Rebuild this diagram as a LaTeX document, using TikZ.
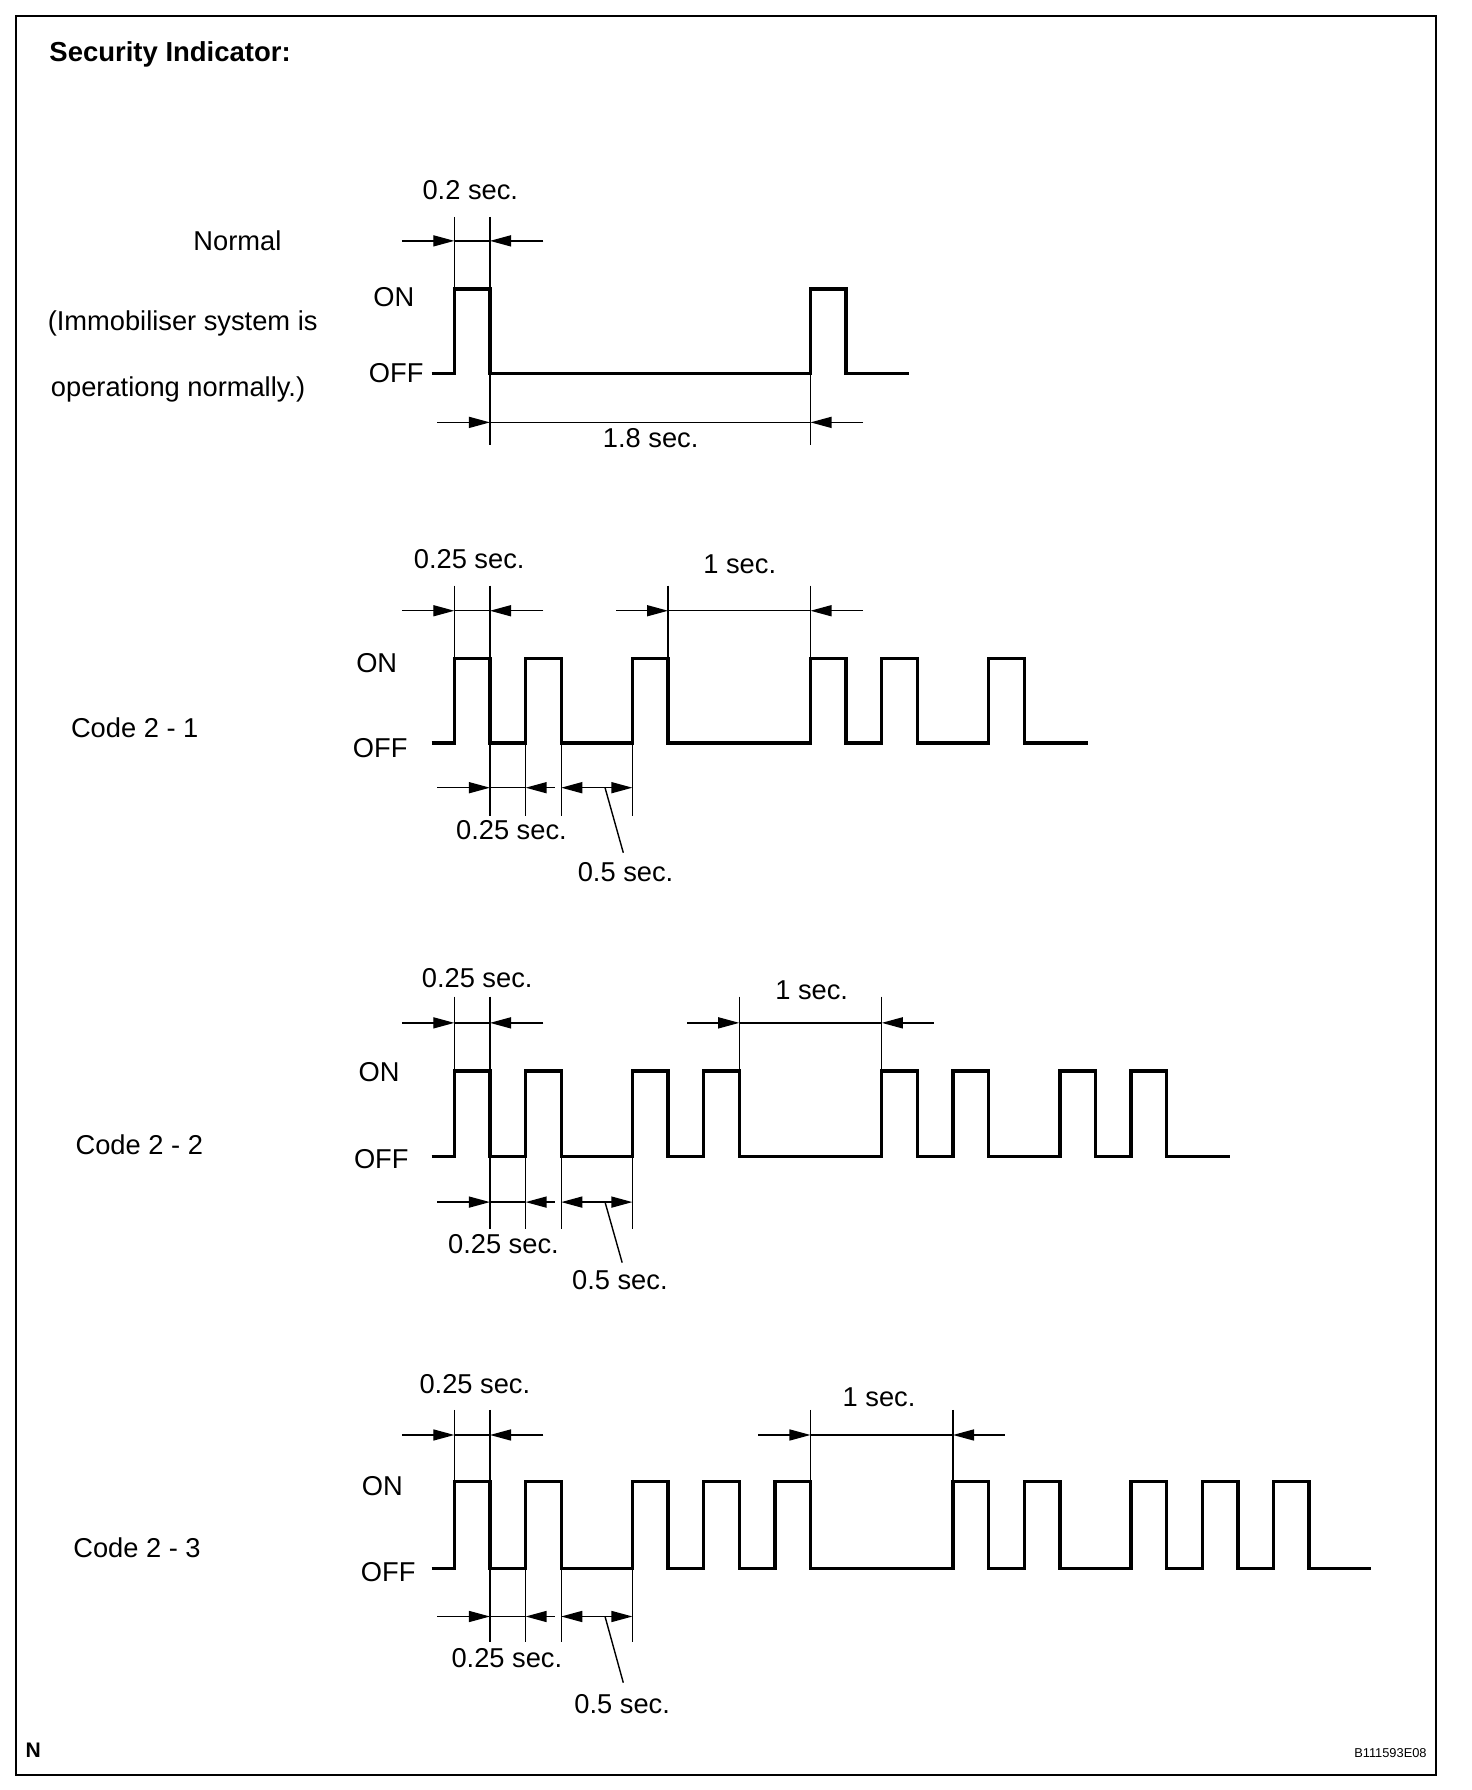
\documentclass[tikz,border=0pt]{standalone}
\usepackage{fontspec}
\setmainfont{Liberation Sans}
\usetikzlibrary{arrows.meta,positioning}

\begin{document}
\begin{tikzpicture}[
    x=0.02cm, y=-0.02cm,
    wave/.style={line width=1.7pt, line join=miter},
    dim/.style={line width=0.7pt},
    dimarr/.style={dim, -{Triangle[length=10.5pt,width=5.5pt]}},
    dimboth/.style={dim, {Triangle[length=10.5pt,width=5.5pt]}-{Triangle[length=10.5pt,width=5.5pt]}},
    lbl/.style={inner sep=0pt, text depth=0pt, font=\fontsize{13.6}{16}\selectfont},
    head/.style={inner sep=0pt, font=\fontsize{13.7}{16}\selectfont\bfseries}
  ]
  \useasboundingbox (0,0) rectangle (1289,1568);
  \draw[line width=1.3pt] (14,14) rectangle (1258,1555);
  \node[head, anchor=base west] (title) at (43,54) {Security Indicator:};
  \node[inner sep=0pt, text depth=0pt, font=\fontsize{10.5}{12}\selectfont\bfseries] (nmark) at (29,1533) {N};
  \node[inner sep=0pt, text depth=0pt, anchor=east, font=\fontsize{6.4}{8}\selectfont] (figcode) at (1250,1536) {B111593E08};

  % normal
  \node[lbl] (normal) at (208,211) {Normal};
  \node[lbl] (immo1) at (160,281) {(Immobiliser system is};
  \node[lbl] (immo2) at (156,339) {operationg normally.)};
  \node[lbl] (on0) at (345,260) {ON};
  \node[lbl] (off0) at (347,327) {OFF};
  \draw[wave] (378,327) \foreach \k in {0,10} {-- ({398+31.2*\k},327) -- ({398+31.2*\k},253)
    -- ({398+31.2*(\k+1)},253) -- ({398+31.2*(\k+1)},327)} -- (796,327);
  \draw[dim] (398,190) -- (398,253);
  \draw[dim] (429.2,190) -- (429.2,390);
  \draw[dim] (710,327) -- (710,390);
  \draw[dimarr] (352,211) -- (398,211);
  \draw[dim] (398,211) -- (429.2,211);
  \draw[dimarr] (476,211) -- (429.2,211);
  \draw[dimarr] (383,370) -- (429.2,370);
  \draw[dim] (429.2,370) -- (710,370);
  \draw[dimarr] (756,370) -- (710,370);
  \node[lbl] (t02) at (412,166) {0.2 sec.};
  \node[lbl] (t18) at (570,384) {1.8 sec.};

  % code 2-1
  \node[lbl] (code21) at (118,637) {Code 2 - 1};
  \node[lbl] (on1) at (330,581) {ON};
  \node[lbl] (off1) at (333,655) {OFF};
  \draw[wave] (378,651) \foreach \k in {0,2,5,10,12,15} {-- ({398+31.2*\k},651) -- ({398+31.2*\k},577)
    -- ({398+31.2*(\k+1)},577) -- ({398+31.2*(\k+1)},651)} -- (953,651);
  \foreach \k in {0,1,6,10} \draw[dim] ({398+31.2*\k},513) -- ({398+31.2*\k},577);
  \foreach \k in {1,2,3,5} \draw[dim] ({398+31.2*\k},651) -- ({398+31.2*\k},715);
  \draw[dimarr] (352,535) -- (398,535);
  \draw[dim] (398,535) -- (429.2,535);
  \draw[dimarr] (476,535) -- (429.2,535);
  \draw[dimarr] (540,535) -- (585.2,535);
  \draw[dim] (585.2,535) -- (710,535);
  \draw[dimarr] (756,535) -- (710,535);
  \draw[dimarr] (383,690) -- (429.2,690);
  \draw[dim] (429.2,690) -- (460.4,690);
  \draw[dimarr] (486,690) -- (460.4,690);
  \draw[dimboth] (491.6,690) -- (554,690);
  \node[lbl] (on21a) at (411,490) {0.25 sec.};
  \node[lbl] (gap21) at (648,494) {1 sec.};
  \node[lbl] (off21a) at (448,727) {0.25 sec.};
  \node[lbl] (half21) at (548,764) {0.5 sec.};
  \draw[dim] (530,690) -- (546,747);

  % code 2-2
  \node[lbl] (code22) at (122,1003) {Code 2 - 2};
  \node[lbl] (on2) at (332,939) {ON};
  \node[lbl] (off2) at (334,1015) {OFF};
  \draw[wave] (378,1013) \foreach \k in {0,2,5,7,12,14,17,19} {-- ({398+31.2*\k},1013) -- ({398+31.2*\k},938)
    -- ({398+31.2*(\k+1)},938) -- ({398+31.2*(\k+1)},1013)} -- (1077,1013);
  \foreach \k in {0,1,8,12} \draw[dim] ({398+31.2*\k},873) -- ({398+31.2*\k},938);
  \foreach \k in {1,2,3,5} \draw[dim] ({398+31.2*\k},1013) -- ({398+31.2*\k},1077);
  \draw[dimarr] (352,896) -- (398,896);
  \draw[dim] (398,896) -- (429.2,896);
  \draw[dimarr] (476,896) -- (429.2,896);
  \draw[dimarr] (602,896) -- (647.6,896);
  \draw[dim] (647.6,896) -- (772.4,896);
  \draw[dimarr] (818,896) -- (772.4,896);
  \draw[dimarr] (383,1053) -- (429.2,1053);
  \draw[dim] (429.2,1053) -- (460.4,1053);
  \draw[dimarr] (486,1053) -- (460.4,1053);
  \draw[dimboth] (491.6,1053) -- (554,1053);
  \node[lbl] (on22a) at (418,857) {0.25 sec.};
  \node[lbl] (gap22) at (711,867) {1 sec.};
  \node[lbl] (off22a) at (441,1090) {0.25 sec.};
  \node[lbl] (half22) at (543,1121) {0.5 sec.};
  \draw[dim] (530,1053) -- (545,1106);

  % code 2-3
  \node[lbl] (code23) at (120,1356) {Code 2 - 3};
  \node[lbl] (on3) at (335,1302) {ON};
  \node[lbl] (off3) at (340,1377) {OFF};
  \draw[wave] (378,1374) \foreach \k in {0,2,5,7,9,14,16,19,21,23} {-- ({398+31.2*\k},1374) -- ({398+31.2*\k},1298)
    -- ({398+31.2*(\k+1)},1298) -- ({398+31.2*(\k+1)},1374)} -- (1201,1374);
  \foreach \k in {0,1,10,14} \draw[dim] ({398+31.2*\k},1235) -- ({398+31.2*\k},1298);
  \foreach \k in {1,2,3,5} \draw[dim] ({398+31.2*\k},1374) -- ({398+31.2*\k},1438);
  \draw[dimarr] (352,1257) -- (398,1257);
  \draw[dim] (398,1257) -- (429.2,1257);
  \draw[dimarr] (476,1257) -- (429.2,1257);
  \draw[dimarr] (664,1257) -- (710,1257);
  \draw[dim] (710,1257) -- (834.8,1257);
  \draw[dimarr] (880,1257) -- (834.8,1257);
  \draw[dimarr] (383,1416) -- (429.2,1416);
  \draw[dim] (429.2,1416) -- (460.4,1416);
  \draw[dimarr] (486,1416) -- (460.4,1416);
  \draw[dimboth] (491.6,1416) -- (554,1416);
  \node[lbl] (on23a) at (416,1212) {0.25 sec.};
  \node[lbl] (gap23) at (770,1224) {1 sec.};
  \node[lbl] (off23a) at (444,1452) {0.25 sec.};
  \node[lbl] (half23) at (545,1493) {0.5 sec.};
  \draw[dim] (530,1416) -- (546,1474);
\end{tikzpicture}
\end{document}
